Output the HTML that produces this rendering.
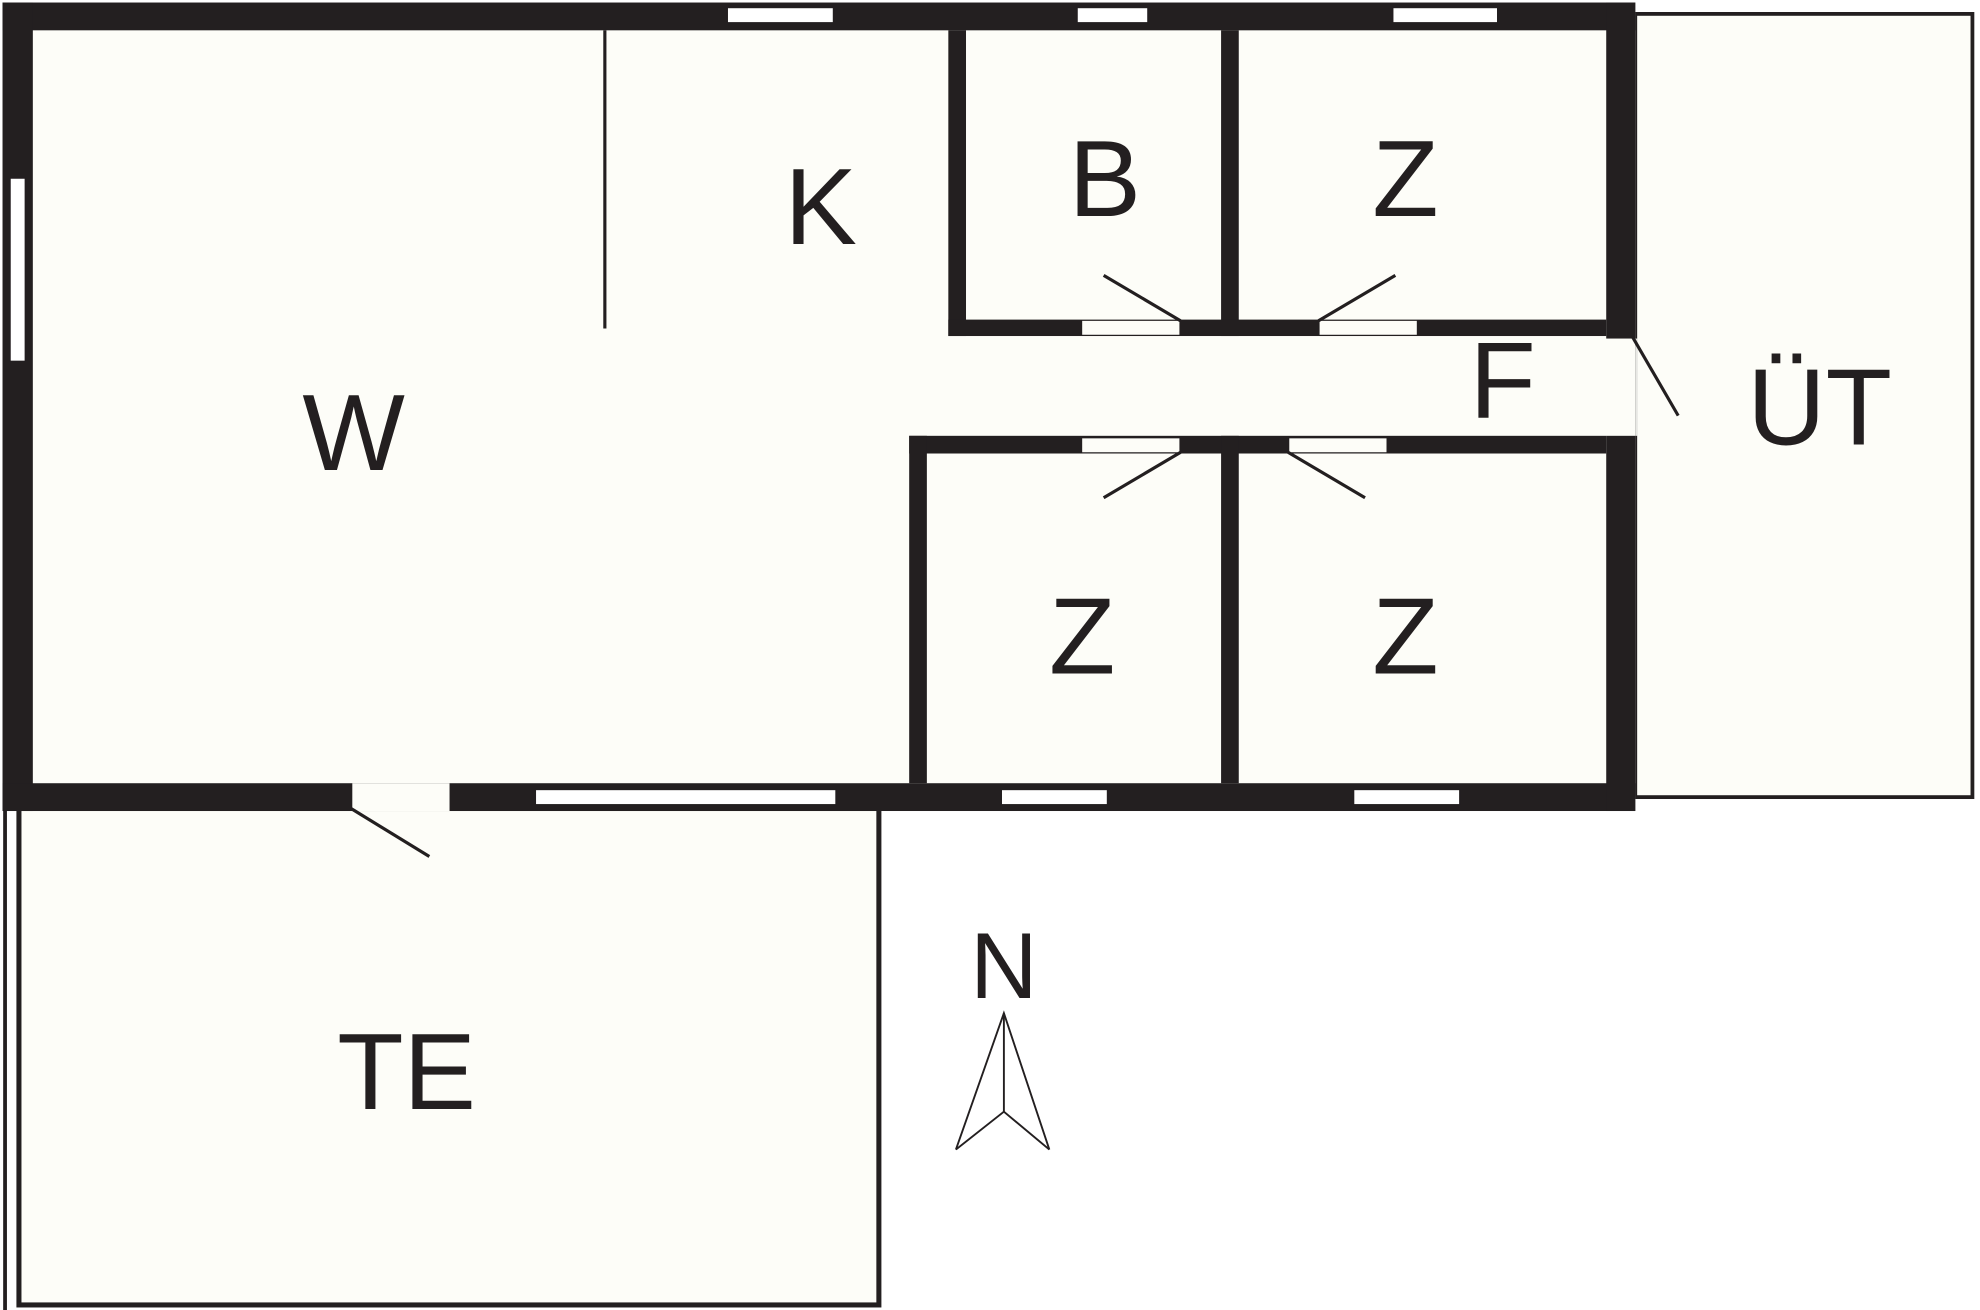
<!DOCTYPE html>
<html><head><meta charset="utf-8"><style>
html,body{margin:0;padding:0;background:#fff;}
svg{display:block;}
text{font-family:"Liberation Sans",Arial,sans-serif;fill:#231f20;text-anchor:middle;}
</style></head><body>
<svg width="1980" height="1310" viewBox="0 0 1568 1037" preserveAspectRatio="none" xmlns="http://www.w3.org/2000/svg">
<rect x="0" y="0" width="1568" height="1037" fill="#fff"/>
<rect x="1295" y="11" width="267" height="620" fill="#fdfdf8" stroke="#231f20" stroke-width="3"/>
<rect x="15" y="640" width="681" height="393" fill="#fdfdf8" stroke="#231f20" stroke-width="4"/>
<line x1="4" y1="640" x2="4" y2="1037" stroke="#231f20" stroke-width="3"/>
<rect x="2" y="2" width="1293" height="640" fill="#fdfdf8"/>
<g fill="#231f20">
<rect x="2" y="2" width="1293" height="22"/>
<rect x="2" y="2" width="24" height="640"/>
<rect x="2" y="620" width="1293" height="22"/>
<rect x="1272" y="2" width="23" height="266"/>
<rect x="1272" y="345" width="23" height="297"/>
<rect x="751" y="24" width="14" height="242"/>
<rect x="967" y="24" width="14" height="242"/>
<rect x="751" y="253" width="521" height="13"/>
<rect x="720" y="345" width="552" height="14"/>
<rect x="720" y="345" width="14" height="275"/>
<rect x="967" y="345" width="14" height="275"/>
</g>
<rect x="1295" y="268" width="2" height="77" fill="#e8e8e4"/>
<g fill="#fff" stroke="#231f20" stroke-width="1">
<rect x="576" y="6" width="84" height="12"/>
<rect x="853" y="6" width="56" height="12"/>
<rect x="1103" y="6" width="83" height="12"/>
<rect x="8" y="141" width="12" height="145"/>
<rect x="424" y="625" width="238" height="12"/>
<rect x="793" y="625" width="84" height="12"/>
<rect x="1072" y="625" width="84" height="12"/>
</g>
<g fill="#fdfdf8">
<rect x="279" y="620" width="77" height="22"/>
<rect x="857" y="254" width="77" height="11"/>
<rect x="1045" y="254" width="77" height="11"/>
<rect x="857" y="347" width="77" height="11"/>
<rect x="1021" y="347" width="77" height="11"/>
</g>
<g stroke="#231f20" stroke-width="2.5" fill="none">
<line x1="479" y1="24" x2="479" y2="260"/>
<line x1="278" y1="640" x2="340" y2="678"/>
<line x1="874" y1="218" x2="935" y2="254"/>
<line x1="1105" y1="218" x2="1044" y2="254"/>
<line x1="935" y1="358" x2="874" y2="394"/>
<line x1="1020" y1="358" x2="1081" y2="394"/>
<line x1="1293" y1="267" x2="1329" y2="329"/>
</g>
<g stroke="#231f20" stroke-width="1.5" fill="none">
<polyline points="757,910 795,802 831,910"/>
<polyline points="757,910 795,880 831,910"/>
<line x1="795" y1="802" x2="795" y2="880"/>
</g>
<g font-size="86">
<text x="280" y="372">W</text>
<text x="650" y="193">K</text>
<text x="875" y="171">B</text>
<text x="1113" y="171">Z</text>
<text x="1190" y="331">F</text>
<text x="1441" y="352">ÜT</text>
<text x="857" y="533">Z</text>
<text x="1113" y="533">Z</text>
<text x="322" y="878">TE</text>
<text x="795" y="790" font-size="74">N</text>
</g>
</svg>
</body></html>
